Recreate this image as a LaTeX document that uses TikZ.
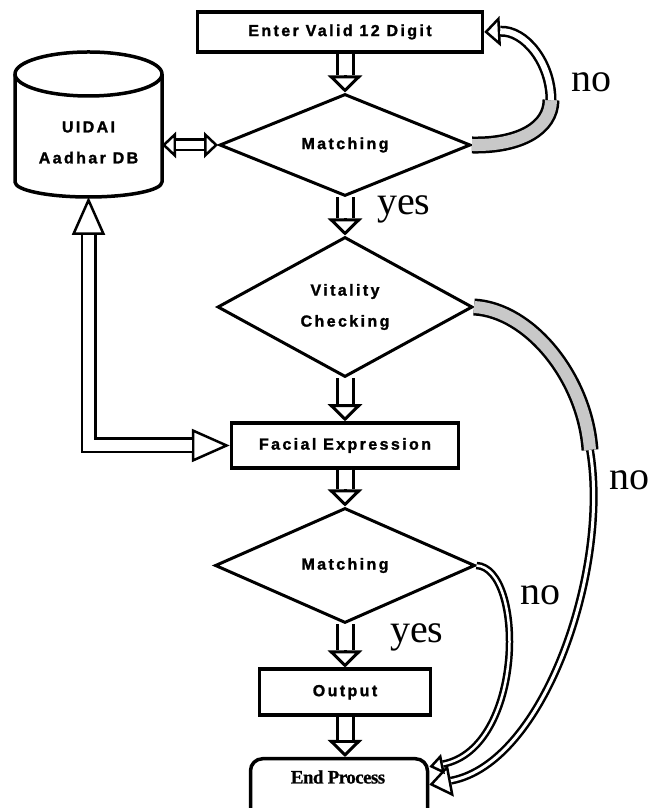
\documentclass[tikz,border=0pt]{standalone}
\usepackage{fontspec}
\setmainfont{Liberation Serif}
\newfontfamily\flowfamily{Liberation Sans}[LetterSpace=15, BoldFeatures={FakeBold=1.5}]
\newfontfamily\endfamily{Liberation Serif}[LetterSpace=-3, BoldFeatures={FakeBold=1}]
\newcommand\flowfont{\flowfamily\bfseries\fontsize{16}{31}\selectfont}
\usepackage{tikz}
\usetikzlibrary{arrows.meta,shapes.geometric,positioning}
\definecolor{ribgray}{RGB}{200,200,200}
\tikzstyle{procbox} = [rectangle, draw, line width=3.5pt, font=\flowfont, inner sep=0pt]
\tikzstyle{decision} = [diamond, draw, line width=3pt, font=\flowfont, align=center, inner sep=0pt]
\tikzstyle{store} = [rectangle, minimum width=147pt, minimum height=145pt, inner sep=0pt, outer sep=0pt]
\tikzstyle{storeline} = [line width=3.5pt, line join=round]
\tikzstyle{endbox} = [rectangle, rounded corners=12pt, draw, line width=3.5pt]
\tikzstyle{lbl} = [font=\fontsize{40}{48}\selectfont, anchor=base west, inner sep=0pt]
\tikzstyle{shaft} = [double, double distance=13pt, line width=3pt, shorten >=17pt]
\tikzstyle{head} = [line width=3pt, -{Triangle[open, length=17pt, width=34pt]}]
\tikzstyle{dbshaft} = [double, double distance=8pt, line width=2.5pt, shorten <=14pt, shorten >=14pt]
\tikzstyle{dbhead} = [line width=2.5pt, {Triangle[open, length=14pt, width=26pt]}-{Triangle[open, length=14pt, width=26pt]}]
\tikzstyle{linkshaft} = [double, double distance=11pt, line width=2.5pt, shorten <=38pt, shorten >=38pt]
\tikzstyle{linkhead} = [line width=2.5pt, {Triangle[open, length=38pt, width=33pt]}-{Triangle[open, length=38pt, width=33pt]}]
\tikzstyle{ribbon} = [double=ribgray, double distance=12pt, line width=2.5pt]
\tikzstyle{ribshaft} = [double, double distance=6pt, line width=2.5pt, shorten >=16pt]
\tikzstyle{ribhead} = [line width=2.5pt, -{Triangle[open, length=16pt, width=30pt]}]
\tikzstyle{thinshaft} = [double, double distance=3pt, line width=2.5pt, shorten >=22pt]
\tikzstyle{thinhead} = [line width=2.5pt, -{Triangle[open, length=22pt, width=32pt]}]
\tikzstyle{smallshaft} = [double, double distance=2.5pt, line width=2.5pt, shorten >=14pt]
\tikzstyle{smallhead} = [line width=2.5pt, -{Triangle[open, length=14pt, width=20pt]}]

\begin{document}
\begin{tikzpicture}[x=1pt, y=1pt]
\clip (0,0) rectangle (651,808);
% flow boxes
\node (enter) [procbox, minimum width=285pt, minimum height=40pt] at (340,776) {Enter Valid 12 Digit};
\node (match1) [decision, minimum width=251pt, minimum height=95pt] at (345,663) {Matching};
\node (vital) [decision, minimum width=255pt, minimum height=140pt] at (345,501) {Vitality\\Checking};
\node (facial) [procbox, minimum width=227pt, minimum height=45pt] at (345,362.5) {Facial Expression};
\node (match2) [decision, minimum width=260pt, minimum height=115pt] at (345,242.5) {Matching};
\node (output) [procbox, below=43pt of match2, minimum width=171pt, minimum height=46pt] {Output};
\node (endp) [endbox, below=40pt of output, xshift=-6pt, minimum width=177pt, minimum height=70pt] {};
\node (endtext) [font=\endfamily\bfseries\fontsize{19}{23}\selectfont] at (338,31) {End Process};

% database drum
\node (db) [store] at (88.5,683.5) {};
\node (dbtext) [font=\flowfont, align=center] at (88.5,665.5) {UIDAI\\Aadhar DB};
\draw[storeline] ([yshift=-22pt]db.north) ellipse (73.5pt and 22pt);
\draw[storeline] ([yshift=-22pt]db.north west) -- ([yshift=15pt]db.south west)
  arc (180:360:73.5pt and 15pt) -- ([yshift=-22pt]db.north east);

% yes / no
\node (no1) [lbl] at (571,716) {no};
\node (yes1) [lbl] at (377,593) {yes};
\node (no2) [lbl] at (609,318) {no};
\node (no3) [lbl] at (520,203) {no};
\node (yes2) [lbl] at (390,165) {yes};

% main flow
\draw[head] (enter.south -| match1.north) -- (match1.north);
\draw[shaft] (enter.south -| match1.north) -- (match1.north);
\draw[head] (match1.south) -- (vital.north);
\draw[shaft] (match1.south) -- (vital.north);
\draw[head] (vital.south) -- (facial.north);
\draw[shaft] (vital.south) -- (facial.north);
\draw[head] (facial.south) -- (match2.north);
\draw[shaft] (facial.south) -- (match2.north);
\draw[head] (match2.south) -- (output.north);
\draw[shaft] (match2.south) -- (output.north);
\draw[head] (output.south) -- (output.south |- endp.north);
\draw[shaft] (output.south) -- (output.south |- endp.north);

% database links
\draw[dbhead] (match1.west -| db.east) -- (match1.west);
\draw[dbshaft] (match1.west -| db.east) -- (match1.west);
\draw[linkhead] (db.south) -- (db.south |- facial.west) -- (facial.west);
\draw[linkshaft] (db.south) -- (db.south |- facial.west) -- (facial.west);

% no branches
\coordinate (twistA) at (551,708);
\draw[ribbon] (match1.east) .. controls (520,662) and (551,680) .. (twistA);
\draw[ribhead] (twistA) .. controls (551,745) and (525,778) .. (enter.east);
\draw[ribshaft] (twistA) .. controls (551,745) and (525,778) .. (enter.east);
\coordinate (twistB) at (590,358);
\draw[ribbon] (vital.east) .. controls (530,498) and (585,430) .. (twistB);
\draw[thinhead] (twistB) .. controls (610,240) and (545,45) .. ([yshift=9pt]endp.east);
\draw[thinshaft] (twistB) .. controls (610,240) and (545,45) .. ([yshift=9pt]endp.east);
\draw[smallhead] (match2.east) .. controls (525,240) and (525,60) .. ([yshift=27pt]endp.east);
\draw[smallshaft] (match2.east) .. controls (525,240) and (525,60) .. ([yshift=27pt]endp.east);
\end{tikzpicture}
\end{document}
